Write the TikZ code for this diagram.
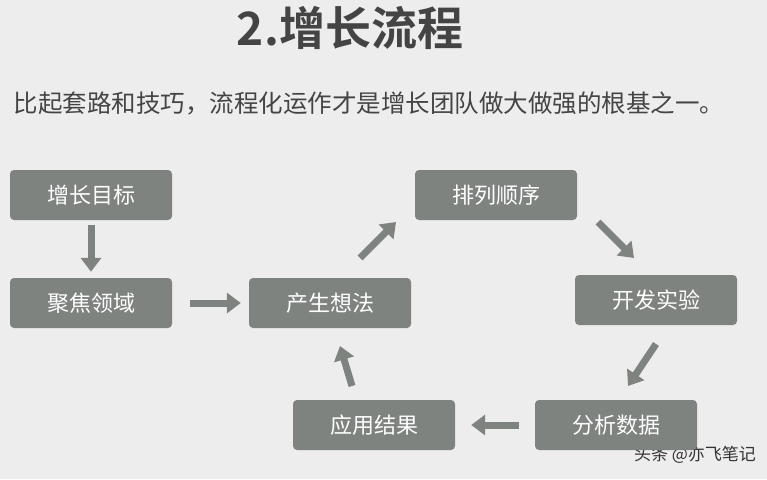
\documentclass[tikz,border=0pt]{standalone}
\usepackage{fontspec}
\setmainfont{Noto Sans CJK SC}
\newfontfamily\titlefont{Noto Sans CJK SC Bold}
\usetikzlibrary{arrows.meta, positioning}
\definecolor{boxgray}{HTML}{7F8380}
\definecolor{textgray}{HTML}{444444}
\definecolor{bggray}{HTML}{EDEDEE}

\begin{document}
\begin{tikzpicture}[x=1pt, y=-1pt,
    stepbox/.style={fill=boxgray, rounded corners=4pt, minimum width=162pt,
        minimum height=50pt, text=white, font=\fontsize{22}{26}\selectfont},
    flow/.style={boxgray, line width=7pt,
        -{Triangle[length=14pt, width=20pt]}}]

    %% Background
    \fill[bggray] (0,0) rectangle (767,479);
    \useasboundingbox (0,0) rectangle (767,479);

    %% Texts
    \node (title) at (350,28) {\titlefont\fontsize{46}{50}\selectfont\color{textgray}2.增长流程};
    \node[anchor=west] (sub) at (10,103) {\fontsize{24.5}{28}\selectfont\color{textgray}比起套路和技巧，流程化运作才是增长团队做大做强的根基之一。};
    \node (mark) at (695,455) {\fontsize{17}{20}\selectfont\color{black!80}头条 @亦飞笔记};

    %% Boxes
    \node[stepbox] (goal) at (91,195) {增长目标};
    \node[stepbox] (focus) at (91,303) {聚焦领域};
    \node[stepbox] (idea) at (330,303) {产生想法};
    \node[stepbox] (order) at (496,195) {排列顺序};
    \node[stepbox] (test) at (656,300) {开发实验};
    \node[stepbox] (data) at (616,425) {分析数据};
    \node[stepbox] (apply) at (374,425) {应用结果};

    %% Arrows
    \coordinate (a1) at (360,258); \coordinate (a2) at (396,222);
    \coordinate (b1) at (598,222); \coordinate (b2) at (634,258);
    \coordinate (c1) at (656,344); \coordinate (c2) at (628,386);
    \coordinate (d1) at (352,386); \coordinate (d2) at (340,346);
    \draw[flow] ([yshift=-5pt]goal.south) -- ([yshift=6pt]focus.north);
    \draw[flow] ([xshift=18pt]focus.east) -- ([xshift=-8pt]idea.west);
    \draw[flow] (a1) -- (a2);
    \draw[flow] (b1) -- (b2);
    \draw[flow] (c1) -- (c2);
    \draw[flow] ([xshift=-16pt]data.west) -- ([xshift=16pt]apply.east);
    \draw[flow] (d1) -- (d2);

\end{tikzpicture}
\end{document}
